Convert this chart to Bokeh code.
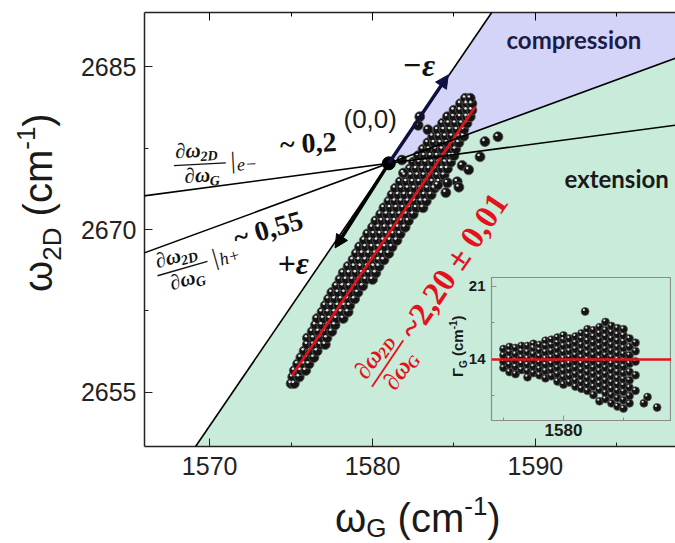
import math
from bokeh.plotting import figure
from bokeh.models import LinearAxis, Label, Arrow, NormalHead, Slope, FixedTicker, Span, Div
from bokeh.layouts import column
from bokeh.embed import file_html
from bokeh.resources import INLINE

# ---------------- data ----------------
X_RANGE = (1566.0, 1598.6)
Y_RANGE = (2650.0, 2690.0)
X_TICKS = [1570, 1580, 1590]
X_MINOR = [1565, 1575, 1585, 1595]
Y_TICKS = [2655, 2670, 2685]
Y_MINOR = [2662.5, 2677.5]

ORIGIN_X = 1581.0
ORIGIN_Y = 2676.1
SLOPE_STRAIN = 2.2     # -eps / +eps direction
SLOPE_HOLE = 0.55      # h+ doping
SLOPE_ELEC = 0.2       # e- doping

ARROW_COMP_TIP = (1584.65, 2684.25)
ARROW_EXT_TIP = (1577.7, 2668.3)

FIT_X = [1575.05, 1586.3]
FIT_Y = [2656.55, 2681.3]

# main scatter: rows of (omega_2D, [omega_G values])
MAIN_ROWS = [
    (2655.8, [1575.0, 1575.2]),
    (2656.4, [1575.1, 1575.5]),
    (2657.0, [1575.2, 1575.6, 1575.9]),
    (2657.6, [1575.4, 1575.8, 1576.1]),
    (2658.2, [1575.6, 1576.0, 1576.4]),
    (2658.8, [1575.8, 1576.2, 1576.6]),
    (2659.4, [1576.0, 1576.4, 1576.8, 1577.1]),
    (2660.0, [1576.0, 1576.4, 1576.8, 1577.2]),
    (2660.6, [1576.3, 1576.7, 1577.1, 1577.5]),
    (2661.2, [1576.5, 1576.9, 1577.3, 1577.7]),
    (2661.8, [1576.6, 1577.0, 1577.4, 1577.8, 1578.2]),
    (2662.4, [1576.9, 1577.3, 1577.7, 1578.1, 1578.5]),
    (2663.0, [1577.1, 1577.5, 1577.9, 1578.3, 1578.6]),
    (2663.6, [1577.3, 1577.7, 1578.1, 1578.5, 1578.9]),
    (2664.2, [1577.5, 1577.9, 1578.3, 1578.7, 1579.1]),
    (2664.8, [1577.8, 1578.2, 1578.6, 1579.0, 1579.4]),
    (2665.4, [1578.0, 1578.4, 1578.8, 1579.2, 1579.6, 1580.0]),
    (2666.0, [1578.2, 1578.6, 1579.0, 1579.4, 1579.8, 1580.2]),
    (2666.6, [1578.5, 1578.9, 1579.3, 1579.7, 1580.1, 1580.4]),
    (2667.2, [1578.8, 1579.2, 1579.6, 1580.0, 1580.4, 1580.7]),
    (2667.8, [1579.0, 1579.4, 1579.8, 1580.2, 1580.6, 1581.0]),
    (2668.4, [1579.2, 1579.6, 1580.0, 1580.4, 1580.8, 1581.2]),
    (2669.0, [1579.5, 1579.9, 1580.3, 1580.7, 1581.1, 1581.5]),
    (2669.6, [1579.7, 1580.1, 1580.5, 1580.9, 1581.3, 1581.7]),
    (2670.2, [1580.0, 1580.4, 1580.8, 1581.2, 1581.6, 1582.0]),
    (2670.8, [1580.2, 1580.6, 1581.0, 1581.4, 1581.8, 1582.2]),
    (2671.4, [1580.5, 1580.9, 1581.3, 1581.7, 1582.1, 1582.5]),
    (2672.0, [1580.7, 1581.1, 1581.5, 1581.9, 1582.3, 1582.7, 1583.1]),
    (2672.6, [1581.0, 1581.4, 1581.8, 1582.2, 1582.6, 1583.0, 1583.3]),
    (2673.2, [1581.2, 1581.6, 1582.0, 1582.4, 1582.8, 1583.2, 1583.6]),
    (2673.8, [1581.4, 1581.8, 1582.2, 1582.6, 1583.0, 1583.4, 1583.8]),
    (2674.4, [1581.7, 1582.1, 1582.5, 1582.9, 1583.3, 1583.7, 1584.1]),
    (2675.0, [1582.0, 1582.4, 1582.8, 1583.2, 1583.6, 1584.0, 1584.4]),
    (2675.6, [1582.3, 1582.7, 1583.1, 1583.5, 1583.9, 1584.3, 1584.6]),
    (2676.2, [1582.5, 1582.9, 1583.3, 1583.7, 1584.1, 1584.5, 1584.8]),
    (2676.8, [1582.8, 1583.2, 1583.6, 1584.0, 1584.4, 1584.8, 1585.0]),
    (2677.4, [1583.1, 1583.5, 1583.9, 1584.3, 1584.7, 1585.1]),
    (2678.0, [1583.4, 1583.8, 1584.2, 1584.6, 1585.0, 1585.3]),
    (2678.6, [1583.7, 1584.1, 1584.5, 1584.9, 1585.3, 1585.6]),
    (2679.2, [1584.0, 1584.4, 1584.8, 1585.2, 1585.6]),
    (2679.8, [1584.3, 1584.7, 1585.1, 1585.5, 1585.8]),
    (2680.4, [1584.6, 1585.0, 1585.4, 1585.8, 1586.0]),
    (2681.0, [1585.0, 1585.4, 1585.8, 1586.1]),
    (2681.6, [1585.4, 1585.8, 1586.1]),
    (2682.1, [1585.7, 1586.0]),
]
MAIN_OUT_X = [1582.9, 1582.8, 1583.4, 1581.8, 1581.9, 1586.9, 1587.7, 1586.6, 1585.5,
              1585.9, 1584.6, 1585.2, 1584.5, 1584.0, 1585.3]
MAIN_OUT_Y = [2680.4, 2679.6, 2679.2, 2676.4, 2675.2, 2678.1, 2678.55, 2676.7, 2675.9,
              2675.5, 2674.3, 2674.4, 2673.4, 2674.1, 2673.9]

# inset: Gamma_G vs omega_G, columns of (omega_G, [Gamma_G values])
INSET_X_RANGE = (1574.0, 1589.0)
INSET_Y_RANGE = (8.15, 21.86)
INSET_X_TICKS = [1570, 1580, 1590]
INSET_X_MINOR = [1575, 1585]
INSET_Y_TICKS = [7, 14, 21]
INSET_Y_MINOR = [10.5, 17.5]
INSET_REF = 14.0
INSET_COLS = [
    (1575.0, [13.2, 13.8, 14.4, 15.0]),
    (1575.5, [12.8, 13.5, 14.1, 14.7, 15.2]),
    (1576.0, [12.6, 13.3, 13.9, 14.5, 15.1]),
    (1576.5, [13.0, 13.6, 14.2, 14.8, 15.3]),
    (1577.0, [12.3, 12.9, 13.5, 14.1, 14.7, 15.3]),
    (1577.5, [12.7, 13.3, 13.9, 14.5, 15.1, 15.5]),
    (1578.0, [12.5, 13.1, 13.7, 14.3, 14.9, 15.4]),
    (1578.5, [12.2, 12.9, 13.5, 14.1, 14.7, 15.3, 15.8]),
    (1579.0, [12.4, 13.0, 13.6, 14.2, 14.8, 15.4, 15.9]),
    (1579.5, [11.9, 12.6, 13.2, 13.8, 14.4, 15.0, 15.6, 16.1]),
    (1580.0, [11.6, 12.3, 12.9, 13.5, 14.1, 14.7, 15.3, 15.9, 16.3]),
    (1580.5, [11.8, 12.4, 13.0, 13.6, 14.2, 14.8, 15.4, 16.0]),
    (1581.0, [11.4, 12.0, 12.6, 13.2, 13.8, 14.4, 15.0, 15.6, 16.2]),
    (1581.5, [11.2, 11.8, 12.4, 13.0, 13.6, 14.2, 14.8, 15.4, 16.0, 16.5]),
    (1582.0, [11.0, 11.6, 12.2, 12.8, 13.4, 14.0, 14.6, 15.2, 15.8, 16.4, 16.9]),
    (1582.5, [10.6, 11.4, 12.0, 12.6, 13.2, 13.8, 14.4, 15.0, 15.6, 16.2, 16.8]),
    (1583.0, [10.0, 11.1, 11.7, 12.3, 12.9, 13.5, 14.1, 14.7, 15.3, 15.9, 16.5, 17.1]),
    (1583.5, [10.2, 10.8, 11.4, 12.0, 12.6, 13.2, 13.8, 14.4, 15.0, 15.6, 16.2, 16.8, 17.6]),
    (1584.0, [9.8, 10.6, 11.2, 11.8, 12.4, 13.0, 13.6, 14.2, 14.8, 15.4, 16.0, 16.6, 17.2]),
    (1584.5, [9.5, 10.3, 11.0, 11.6, 12.2, 12.8, 13.4, 14.0, 14.6, 15.2, 15.8, 16.4, 17.0]),
    (1585.0, [9.3, 10.1, 10.9, 11.5, 12.1, 12.7, 13.3, 13.9, 14.5, 15.1, 15.7, 16.3, 16.9]),
    (1585.5, [9.8, 10.5, 11.3, 12.0, 12.8, 13.6, 14.4, 15.2, 16.0]),
    (1586.0, [11.0, 12.5, 13.8, 14.8, 15.6]),
]
INSET_OUT_X = [1581.8, 1586.7, 1587.0, 1587.8]
INSET_OUT_Y = [18.6, 9.8, 10.4, 9.4]

# ---------------- helpers ----------------
W, H = 675, 543
BL, BT, BR, BB = 144, 12, 0, 97
FW, FH = W - BL - BR, H - BT - BB
PAGE_L, PAGE_T = BL, BT
MID = 0.34   # distance (in em) from the alphabetic baseline up to the text's middle


def px2x(px):
    return X_RANGE[0] + (px - PAGE_L) * (X_RANGE[1] - X_RANGE[0]) / FW


def px2y(py):
    return Y_RANGE[1] - (py - PAGE_T) * (Y_RANGE[1] - Y_RANGE[0]) / FH


def place(fig, ox, oy, ang_deg, pieces):
    """pieces: (text, along-baseline px, up px, size, font, style, colour); (ox, oy) = baseline start."""
    a = math.radians(ang_deg)
    ca, sa = math.cos(a), math.sin(a)
    for (txt, dxp, dyp, size, font, style, color) in pieces:
        up = dyp + MID * size
        sx = ox + dxp * ca - up * sa
        sy = oy - dxp * sa - up * ca
        fig.add_layout(Label(x=px2x(sx), y=px2y(sy), text=txt, angle=a,
                             text_font=font, text_font_size=f"{size}px",
                             text_font_style=style, text_color=color,
                             text_align="left", text_baseline="middle"))


def bar(fig, ox, oy, ang_deg, d0, d1, dyp, color, width=1.4):
    a = math.radians(ang_deg)
    ca, sa = math.cos(a), math.sin(a)
    xs, ys = [], []
    for d in (d0, d1):
        xs.append(px2x(ox + d * ca - dyp * sa))
        ys.append(px2y(oy - d * sa - dyp * ca))
    fig.line(xs, ys, line_color=color, line_width=width)


GREEN = "#c8ecd9"
PURPLE = "#d4d4f8"
SERIF = "Liberation Serif"
SANS = "Liberation Sans"
INK = "#1a1a1a"

# ---------------- main figure ----------------
p = figure(width=W, height=H, x_range=X_RANGE, y_range=Y_RANGE,
           output_backend="svg", toolbar_location=None,
           min_border_left=BL, min_border_top=BT, min_border_right=BR,
           min_border_bottom=BB, background_fill_color="white",
           border_fill_color="white", outline_line_color=None)
p.grid.visible = False

for ax in (p.xaxis[0], p.yaxis[0]):
    ax.axis_line_width = 1.5
    ax.axis_line_color = "#222222"
    ax.major_tick_line_color = "#222222"
    ax.minor_tick_line_color = "#222222"
    ax.major_tick_in = 8
    ax.major_tick_out = 0
    ax.minor_tick_in = 4
    ax.minor_tick_out = 0
    ax.major_label_text_font = SANS
    ax.major_label_text_font_size = "25px"
    ax.major_label_text_color = "#222222"
p.xaxis[0].ticker = FixedTicker(ticks=X_TICKS, minor_ticks=X_MINOR)
p.yaxis[0].ticker = FixedTicker(ticks=Y_TICKS, minor_ticks=Y_MINOR)
p.xaxis[0].major_label_standoff = 10
p.yaxis[0].major_label_standoff = 8

top = LinearAxis(ticker=FixedTicker(ticks=X_TICKS, minor_ticks=X_MINOR),
                 major_label_text_font_size="2px", major_label_text_color=None,
                 major_label_standoff=0,
                 axis_line_width=1.5, axis_line_color="#222222",
                 major_tick_in=8, major_tick_out=0, minor_tick_in=4, minor_tick_out=0)
p.add_layout(top, "above")

# regions
x_hi, y_hi, y_lo = X_RANGE[1] + 5, Y_RANGE[1] + 5, Y_RANGE[0] - 5
x_top = ORIGIN_X + (y_hi - ORIGIN_Y) / SLOPE_STRAIN
x_bot = ORIGIN_X + (y_lo - ORIGIN_Y) / SLOPE_STRAIN
y_hole_hi = ORIGIN_Y + SLOPE_HOLE * (x_hi - ORIGIN_X)
p.patch([ORIGIN_X, x_top, x_hi, x_hi], [ORIGIN_Y, y_hi, y_hi, y_hole_hi],
        fill_color=PURPLE, line_color=None)
p.patch([ORIGIN_X, x_hi, x_hi, x_bot], [ORIGIN_Y, y_hole_hi, y_lo, y_lo],
        fill_color=GREEN, line_color=None)

for g in (SLOPE_STRAIN, SLOPE_HOLE, SLOPE_ELEC):
    p.add_layout(Slope(gradient=g, y_intercept=ORIGIN_Y - g * ORIGIN_X,
                       line_color="black", line_width=1.6))

# scatter
mx, my = [], []
for yv, xs in MAIN_ROWS:
    for xv in xs:
        mx.append(xv)
        my.append(yv)
mx += MAIN_OUT_X
my += MAIN_OUT_Y
p.scatter(mx, my, size=10, fill_color="#141414", line_color="#5a5a5a", line_width=0.8)
hx = [v - 0.09 for v in mx]
hy = [v + 0.16 for v in my]
p.scatter(hx, hy, size=2.6, fill_color="white", line_color=None, alpha=0.85)

p.line(FIT_X, FIT_Y, line_color="#e3121b", line_width=2.6)

# arrows
p.add_layout(Arrow(end=NormalHead(size=13, fill_color="#101040", line_color="#101040"),
                   x_start=ORIGIN_X, y_start=ORIGIN_Y,
                   x_end=ARROW_COMP_TIP[0], y_end=ARROW_COMP_TIP[1],
                   line_width=3.5, line_color="#101040"))
p.add_layout(Arrow(end=NormalHead(size=13, fill_color="black", line_color="black"),
                   x_start=ORIGIN_X, y_start=ORIGIN_Y,
                   x_end=ARROW_EXT_TIP[0], y_end=ARROW_EXT_TIP[1],
                   line_width=3.5, line_color="black"))
p.scatter([ORIGIN_X], [ORIGIN_Y], size=13, fill_color="black", line_color="black")

# texts
place(p, 506, 47, 0, [("compression", 0, 0, 24, "Lato", "bold", "#1c1c48")])
place(p, 564, 186, 0, [("extension", 0, 0, 24, "Lato", "bold", "#1a1a1a")])
place(p, 343, 127, 0, [("(0,0)", 0, 0, 26, SANS, "normal", INK)])
place(p, 402, 75, 0, [("−ε", 0, 0, 32, SERIF, "bold italic", "#111111")])
place(p, 277, 273, 0, [("+ε", 0, 0, 32, SERIF, "bold italic", "#111111")])

# e- label
E_O, E_A = (175, 158), 3
place(p, E_O[0], E_O[1], E_A, [
    ("∂ω", 0, 0, 21, SERIF, "bold italic", "#111111"),
    ("2D", 25, -4, 14, SERIF, "bold italic", "#111111"),
    ("∂ω", 8, -25, 21, SERIF, "bold italic", "#111111"),
    ("G", 33, -29, 14, SERIF, "bold italic", "#111111"),
    ("|", 55, -13, 24, SERIF, "normal", "#111111"),
    ("e−", 61, -15, 18, SERIF, "italic", "#111111"),
    ("~ 0,2", 105, -1, 28, SERIF, "bold", "#111111"),
])
bar(p, E_O[0], E_O[1], E_A, -2, 50, -7, "#111111")

# h+ label
H_O, H_A = (157, 268), 16
place(p, H_O[0], H_O[1], H_A, [
    ("∂ω", 0, 0, 21, SERIF, "bold italic", "#111111"),
    ("2D", 25, -4, 14, SERIF, "bold italic", "#111111"),
    ("∂ω", 8, -25, 21, SERIF, "bold italic", "#111111"),
    ("G", 33, -29, 14, SERIF, "bold italic", "#111111"),
    ("|", 56, -13, 24, SERIF, "normal", "#111111"),
    ("h+", 62, -15, 18, SERIF, "italic", "#111111"),
    ("~ 0,55", 82, -2, 28, SERIF, "bold", "#111111"),
])
bar(p, H_O[0], H_O[1], H_A, -2, 50, -7, "#111111")

# red fit label
R_O, R_A = (366, 380), 56
RED = "#e3121b"
place(p, R_O[0], R_O[1], R_A, [
    ("∂ω", 0, 0, 25, SERIF, "bold italic", RED),
    ("2D", 29, -4, 16, SERIF, "bold italic", RED),
    ("∂ω", 7, -30, 25, SERIF, "bold italic", RED),
    ("G", 36, -34, 16, SERIF, "bold italic", RED),
    ("~2,20 ± 0,01", 60, -19, 33, SERIF, "bold", RED),
])
bar(p, R_O[0], R_O[1], R_A, -2, 54, -8, RED, 1.8)

# ---------------- inset ----------------
QW, QH = BL + 180, 170
QBL, QBT, QBR, QBB = BL, 2, 0, 25
Q_PAGE_L, Q_PAGE_T = 491 - QBL, 277 - QBT

q = figure(width=QW, height=QH, x_range=INSET_X_RANGE, y_range=INSET_Y_RANGE,
           output_backend="svg", toolbar_location=None,
           min_border_left=QBL, min_border_top=QBT, min_border_right=QBR,
           min_border_bottom=QBB, background_fill_color=None,
           border_fill_color=None, outline_line_color="#8c8c8c", outline_line_width=1.2)
q.grid.visible = False
q.xaxis[0].ticker = FixedTicker(ticks=INSET_X_TICKS, minor_ticks=INSET_X_MINOR)
q.yaxis[0].ticker = FixedTicker(ticks=INSET_Y_TICKS, minor_ticks=INSET_Y_MINOR)
for ax in (q.xaxis[0], q.yaxis[0]):
    ax.axis_line_color = "#8c8c8c"
    ax.major_tick_line_color = "#8c8c8c"
    ax.minor_tick_line_color = "#8c8c8c"
    ax.major_tick_in = 5
    ax.major_tick_out = 0
    ax.minor_tick_in = 3
    ax.minor_tick_out = 0
    ax.major_label_text_font = SANS
    ax.major_label_text_font_style = "bold"
    ax.major_label_text_color = INK
q.xaxis[0].major_label_text_font_size = "17px"
q.yaxis[0].major_label_text_font_size = "15px"
q.xaxis[0].major_label_standoff = 3
q.yaxis[0].major_label_standoff = 6

ix, iy = [], []
for xv, ys in INSET_COLS:
    for yv in ys:
        ix.append(xv)
        iy.append(yv)
ix += INSET_OUT_X
iy += INSET_OUT_Y
q.scatter(ix, iy, size=8, fill_color="#141414", line_color="#5a5a5a", line_width=0.7)
q.scatter([v - 0.1 for v in ix], [v + 0.15 for v in iy], size=2.2,
          fill_color="white", line_color=None, alpha=0.85)
q.add_layout(Span(location=INSET_REF, dimension="width", line_color="#e3121b", line_width=2.4))
q.margin = (Q_PAGE_T - H, 0, 0, Q_PAGE_L)
q_bottom = Q_PAGE_T + QH

# ---------------- axis titles (HTML text with sub/superscripts) ----------------
SUB = "position:relative;"


def title_html(main, sub, size, sub_size, sub_drop, sup_rise, weight="normal"):
    return (f'<span style="font-family:\'Liberation Sans\';font-size:{size}px;font-weight:{weight};'
            f'color:{INK};white-space:nowrap">{main}'
            f'<span style="{SUB}font-size:{sub_size}px;top:{sub_drop}px">{sub}</span>'
            f' (cm<span style="{SUB}font-size:{sub_size}px;top:{-sup_rise}px">-1</span>)</span>')


# x title: baseline near y=531, starts x=335
XT_TOP, XT_H = 485, H - 485
xt = Div(text=title_html("ω", "G", 40, 26, 5, 17), width=220, height=XT_H,
         margin=(XT_TOP - q_bottom, 0, 0, 335),
         styles={"overflow": "hidden", "line-height": "66px"})

# y title: rotated, baseline x=52, starts y=292 going up
YT_X, YT_Y = 16, 292
yt = Div(text=title_html("ω", "2D", 40, 26, 9, 17), width=210, height=44,
         margin=(YT_Y - (XT_TOP + XT_H), 0, 0, YT_X),
         styles={"line-height": "44px", "transform": "rotate(-90deg)",
                 "transform-origin": "0 0", "overflow": "visible"})

# inset y title
GT_X, GT_Y = 449, 377
gt = Div(text=title_html("Γ", "G", 15, 10, 4, 6, "bold"), width=80, height=18,
         margin=(GT_Y - (YT_Y + 44), 0, 0, GT_X),
         styles={"line-height": "18px", "transform": "rotate(-90deg)",
                 "transform-origin": "0 0", "overflow": "visible"})

layout = column(p, q, xt, yt, gt)
open("out.html", "w").write(file_html(layout, INLINE))
